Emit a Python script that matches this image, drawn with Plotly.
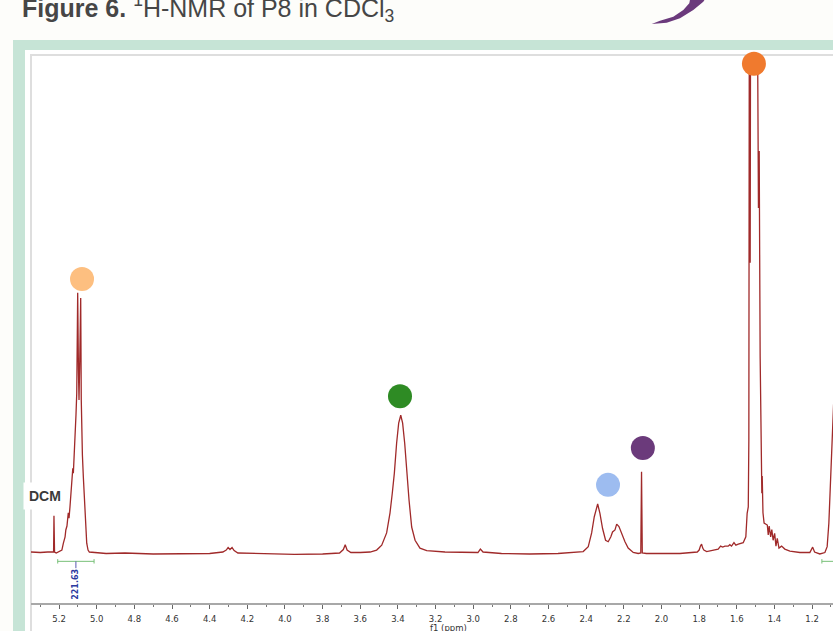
import plotly.graph_objects as go

# 1H NMR trace of P8 in CDCl3: chemical shift (ppm) and intensity (arbitrary units)
ppm = [
    5.349, 5.300, 5.260, 5.235, 5.229, 5.227, 5.224, 5.215, 5.195, 5.185,
    5.177, 5.168, 5.164, 5.158, 5.151, 5.147, 5.142, 5.133, 5.127, 5.124,
    5.120, 5.115, 5.110, 5.106, 5.101, 5.097, 5.094, 5.090, 5.085, 5.082,
    5.080, 5.076, 5.071, 5.062, 5.053, 5.046, 5.039,
    4.950, 4.850, 4.700, 4.550, 4.400, 4.330, 4.312, 4.302, 4.292, 4.281,
    4.270, 4.250, 4.100, 3.950, 3.800, 3.710, 3.690, 3.680, 3.670, 3.650,
    3.600, 3.548, 3.513, 3.486, 3.460, 3.442, 3.430, 3.419, 3.407, 3.396,
    3.385, 3.375, 3.364, 3.353, 3.341, 3.327, 3.309, 3.283, 3.247, 3.150,
    3.050, 2.975, 2.962, 2.948, 2.850, 2.700, 2.550, 2.450, 2.416, 2.389,
    2.371, 2.357, 2.344, 2.339, 2.327, 2.313, 2.297, 2.283, 2.269, 2.260,
    2.247, 2.238, 2.226, 2.212, 2.194, 2.177, 2.150, 2.124, 2.110, 2.106,
    2.102, 2.080, 2.000, 1.902, 1.810, 1.800, 1.793, 1.787, 1.781, 1.775,
    1.760, 1.725, 1.699, 1.686, 1.675, 1.663, 1.646, 1.637, 1.628, 1.615,
    1.605, 1.592, 1.566, 1.552, 1.545, 1.539, 1.536, 1.533, 1.529, 1.526,
    1.509, 1.493, 1.485, 1.481, 1.476, 1.469, 1.467, 1.465, 1.461, 1.455,
    1.438, 1.433, 1.428, 1.420, 1.414, 1.407, 1.399, 1.392, 1.385, 1.376,
    1.362, 1.345, 1.318, 1.265, 1.212, 1.197, 1.187, 1.159, 1.132, 1.120,
    1.111, 1.102, 1.095, 1.086, 1.070,
]
intensity = [
    0.0, -0.1, 0.0, -0.1, 0.0, 7.4, 0.0, -0.2, 0.2, 0.4,
    1.8, 3.1, 4.5, 5.3, 8.0, 6.9, 9.2, 14.1, 17.1, 16.1,
    20.8, 24.9, 28.0, 32.4, 52.9, 37.1, 31.0, 39.2, 51.8, 31.0,
    23.5, 19.8, 15.3, 8.0, 1.8, 0.4, 0.0,
    -0.3, -0.2, -0.4, -0.3, -0.3, 0.0, 0.4, 0.9, 0.5, 0.9,
    0.3, -0.2, -0.4, -0.5, -0.4, -0.2, 0.5, 1.5, 0.4, -0.1,
    -0.1, 0.0, 0.4, 1.4, 3.9, 8.0, 12.0, 16.1, 22.2, 26.3,
    27.9, 26.3, 22.2, 16.1, 10.6, 5.1, 2.4, 0.8, 0.3, 0.0,
    -0.1, -0.1, 0.6, 0.0, -0.3, -0.4, -0.3, -0.1, 0.1, 1.1,
    3.9, 7.2, 9.6, 9.8, 7.9, 4.8, 2.4, 2.1, 3.1, 4.1,
    4.5, 5.7, 5.2, 3.8, 2.1, 0.8, -0.1, -0.3, -0.2, 16.4,
    -0.2, -0.3, -0.3, -0.3, 0.0, 0.4, 1.2, 1.6, 0.8, 0.4,
    0.1, 0.3, 0.6, 1.2, 1.0, 1.2, 1.2, 1.5, 1.2, 1.9,
    1.4, 1.6, 1.9, 3.1, 7.9, 9.2, 22.9, 130.0, 59.0, 130.0,
    112.0, 130.0, 70.2, 81.8, 40.0, 16.1, 12.0, 15.5, 8.0, 5.9,
    5.5, 3.5, 5.3, 3.1, 4.6, 2.4, 3.8, 1.2, 2.8, 0.8,
    1.2, 0.6, 0.2, -0.1, -0.1, 1.0, 0.0, -0.4, -0.1, 1.1,
    5.9, 14.7, 22.9, 30.0, 38.0,
]

# coloured assignment dots above the signals
dot_ppm = [5.078, 3.389, 2.284, 2.099, 1.509, 1.047]
dot_height = [55.7, 31.8, 13.7, 21.2, 99.6, 31.6]
dot_colors = ["#fdbf80", "#2e8b24", "#9dbcf0", "#6b3a7b", "#f07a2e", "#b89cf0"]

# integration regions
integral_from = [5.207, 1.148]
integral_to = [5.014, 0.950]
integral_values = ["221.63", ""]

# axis ticks
tick_ppm = [5.2, 5.0, 4.8, 4.6, 4.4, 4.2, 4.0, 3.8, 3.6, 3.4, 3.2,
            3.0, 2.8, 2.6, 2.4, 2.2, 2.0, 1.8, 1.6, 1.4, 1.2]
tick_labels = ["5.2", "5.0", "4.8", "4.6", "4.4", "4.2", "4.0", "3.8", "3.6", "3.4", "3.2",
               "3.0", "2.8", "2.6", "2.4", "2.2", "2.0", "1.8", "1.6", "1.4", "1.2"]

# page geometry (pixels)
W, H = 833, 631
ML, MT, MB = 31, 55, 28


def px(x):
    return (x - ML) / (W - ML)


def py(y):
    return (H - MB - y) / (H - MT - MB)


fig = go.Figure()

fig.add_trace(go.Scatter(
    x=ppm, y=intensity, mode="lines",
    line=dict(color="#a02a2a", width=1.3),
    hoverinfo="skip", showlegend=False,
))

fig.add_trace(go.Scatter(
    x=dot_ppm, y=dot_height, mode="markers",
    marker=dict(size=24, color=dot_colors, line=dict(width=0)),
    cliponaxis=False, hoverinfo="skip", showlegend=False,
))

shapes = [
    # mint panel behind the spectrum
    dict(type="rect", xref="paper", yref="paper", layer="below",
         x0=px(13), x1=px(900), y0=py(700), y1=py(40),
         fillcolor="#c6e4d6", line=dict(width=0)),
    dict(type="rect", xref="paper", yref="paper", layer="below",
         x0=px(25), x1=px(900), y0=py(700), y1=py(50),
         fillcolor="#ffffff", line=dict(width=0)),
    dict(type="rect", xref="paper", yref="paper", layer="below",
         x0=px(31), x1=px(900), y0=py(700), y1=py(55),
         fillcolor="#ffffff", line=dict(color="#dedede", width=2)),
]

# purple swoosh in the page header
swoosh = [(651.7, 24), (666.7, 22.7), (680, 18.3), (693.3, 10), (703.3, 1.7), (706.5, -3),
          (690.5, -3), (689.3, 3.3), (683.3, 10), (673.3, 16.7), (660, 20.7)]
path = "M " + " L ".join(f"{px(a):.5f},{py(b):.5f}" for a, b in swoosh) + " Z"
shapes.append(dict(type="path", xref="paper", yref="paper", path=path,
                   fillcolor="#6b3a7c", line=dict(width=0)))

# integration bars
bar_y = -1.9
for a, b, val in zip(integral_from, integral_to, integral_values):
    shapes.append(dict(type="line", xref="x", yref="y", x0=a, x1=b, y0=bar_y, y1=bar_y,
                       line=dict(color="#78c078", width=1)))
    for e in (a, b):
        shapes.append(dict(type="line", xref="x", yref="y", x0=e, x1=e,
                           y0=bar_y - 0.45, y1=bar_y + 0.45,
                           line=dict(color="#78c078", width=1)))
    if val:
        mid = (a + b) / 2
        shapes.append(dict(type="line", xref="x", yref="y", x0=mid, x1=mid,
                           y0=bar_y, y1=bar_y - 1.4,
                           line=dict(color="#5a5ab0", width=1)))

annotations = [
    dict(xref="paper", yref="paper", x=px(20), y=py(8), xanchor="left", yanchor="middle",
         showarrow=False,
         text="<b>Figure 6.</b> <sup>1</sup>H-NMR of P8 in CDCl<sub>3</sub>",
         font=dict(family="Liberation Sans, Arial, sans-serif", size=25, color="#464646")),
    dict(xref="paper", yref="paper", x=px(45), y=py(496), xanchor="center", yanchor="middle",
         showarrow=False, text="<b>DCM</b>", bgcolor="#ffffff", borderpad=5,
         font=dict(family="Liberation Sans, Arial, sans-serif", size=14, color="#3a3a3a")),
    dict(xref="x", yref="paper", x=3.129, y=py(628), xanchor="center", yanchor="middle",
         showarrow=False, text="f1 (ppm)",
         font=dict(family="DejaVu Sans, sans-serif", size=8.5, color="#333333")),
]
for a, b, val in zip(integral_from, integral_to, integral_values):
    if val:
        annotations.append(dict(
            xref="x", yref="y", x=(a + b) / 2, y=-6.5, textangle=-90,
            showarrow=False, text=f"<b>{val}</b>",
            font=dict(family="DejaVu Sans, sans-serif", size=8, color="#2b3aa0")))

fig.update_layout(
    width=W, height=H,
    margin=dict(l=ML, r=0, t=MT, b=MB, pad=0),
    paper_bgcolor="#fdfdfa", plot_bgcolor="#ffffff",
    shapes=shapes, annotations=annotations,
    xaxis=dict(
        range=[5.349, 1.089], autorange=False,
        tickmode="array", tickvals=tick_ppm, ticktext=tick_labels,
        ticks="outside", ticklen=4, tickwidth=1, tickcolor="#666666",
        ticklabelstandoff=3,
        tickfont=dict(family="DejaVu Sans, sans-serif", size=8.5, color="#333333"),
        showline=True, linecolor="#a8a8a8", linewidth=1.5,
        showgrid=False, zeroline=False,
        minor=dict(ticks="outside", ticklen=2, tickcolor="#777777", tick0=0, dtick=0.1),
    ),
    yaxis=dict(range=[-10.4, 101.4], autorange=False, visible=False),
)

fig.write_html("out.html")
